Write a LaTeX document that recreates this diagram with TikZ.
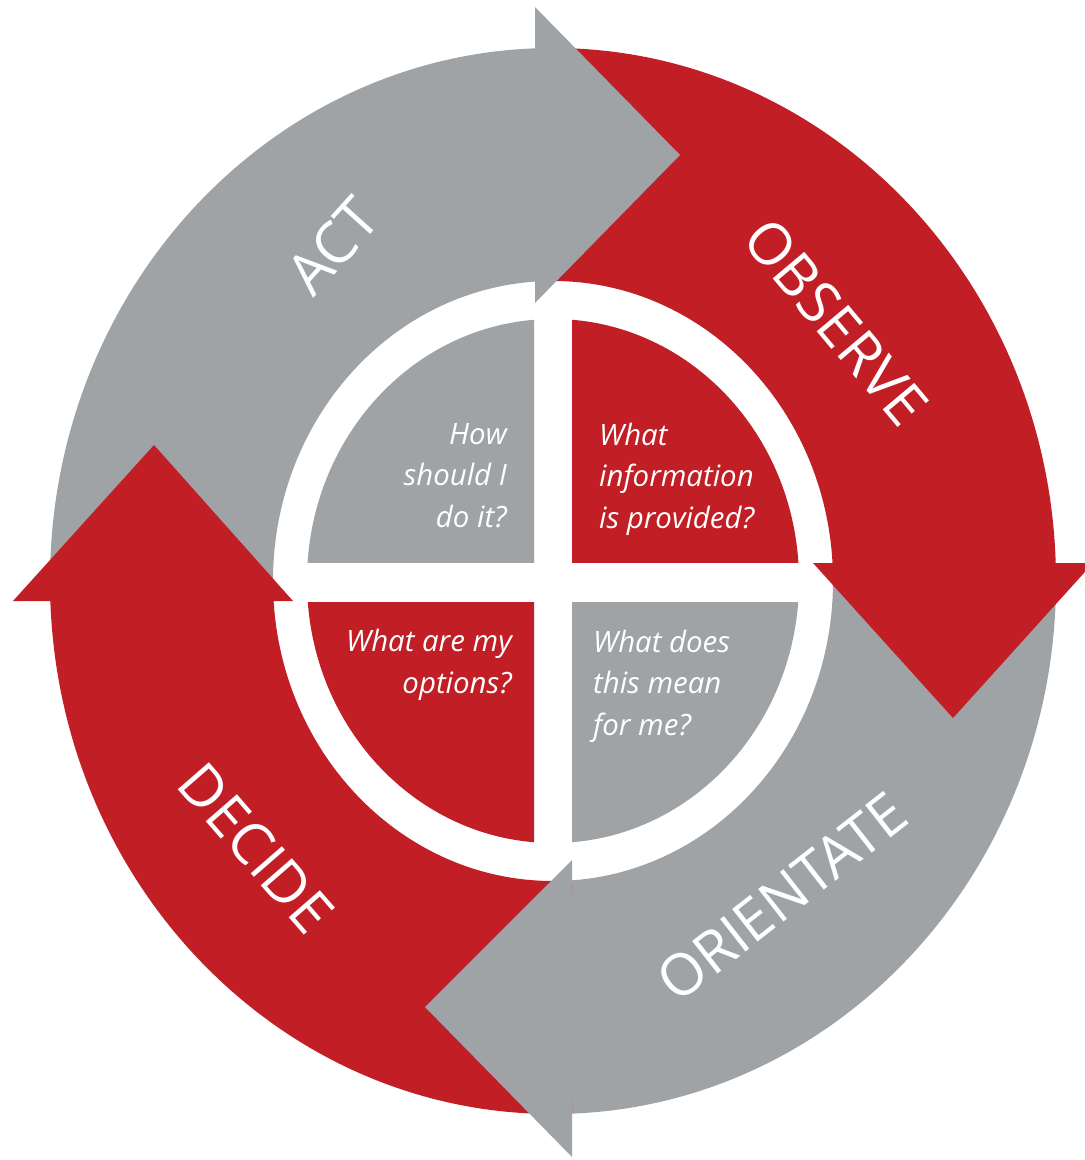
\documentclass[tikz,border=0pt]{standalone}
\usepackage{fontspec}
\setmainfont{Open Sans}
\definecolor{loopred}{RGB}{193,30,38}
\definecolor{loopgray}{RGB}{160,163,166}

\begin{document}
\begin{tikzpicture}[x=1bp,y=-1bp,
  stage/.style={text=white, inner sep=0pt, font=\fontsize{58}{58}\selectfont},
  question/.style={text=white, inner sep=0pt, font=\fontsize{29.5}{41.5}\selectfont\itshape},
  qleft/.style={question, align=left, anchor=base west},
  qright/.style={question, align=right, anchor=base east}]
\useasboundingbox (0,0) rectangle (1085,1160);
\coordinate (c) at (553,581);

% outer ring, split into four bands
\begin{scope}
  \clip (0,0) rectangle (535,601);
  \fill[loopgray, even odd rule] (c) ellipse [x radius=503, y radius=533] (c) ellipse [x radius=280, y radius=300];
\end{scope}
\begin{scope}
  \clip (535,0) rectangle (1100,563);
  \fill[loopred, even odd rule] (c) ellipse [x radius=503, y radius=533] (c) ellipse [x radius=280, y radius=300];
\end{scope}
\begin{scope}
  \clip (572,563) rectangle (1100,1160);
  \fill[loopgray, even odd rule] (c) ellipse [x radius=503, y radius=533] (c) ellipse [x radius=280, y radius=300];
\end{scope}
\begin{scope}
  \clip (0,601) rectangle (572,1160);
  \fill[loopred, even odd rule] (c) ellipse [x radius=503, y radius=533] (c) ellipse [x radius=280, y radius=300];
\end{scope}

% inner disc, split into four quadrants by a white cross
\begin{scope}
  \clip (0,0) rectangle (534,562);
  \fill[loopgray] (c) ellipse [x radius=246, y radius=262];
\end{scope}
\begin{scope}
  \clip (572,0) rectangle (1085,562);
  \fill[loopred] (c) ellipse [x radius=246, y radius=262];
\end{scope}
\begin{scope}
  \clip (0,602) rectangle (534,1160);
  \fill[loopred] (c) ellipse [x radius=246, y radius=262];
\end{scope}
\begin{scope}
  \clip (572,602) rectangle (1085,1160);
  \fill[loopgray] (c) ellipse [x radius=246, y radius=262];
\end{scope}

% arrowheads, each with a short strip joining it to its own band
\fill[loopgray] (531,60) rectangle (538,270);
\fill[loopgray] (535,7) -- (680,155) -- (535,303) -- cycle;
\fill[loopred] (845,560) rectangle (1040,567);
\fill[loopred] (813,563) -- (1093,563) -- (953,718) -- cycle;
\fill[loopgray] (569,895) rectangle (576,1100);
\fill[loopgray] (572,860) -- (425,1007) -- (572,1157) -- cycle;
\fill[loopred] (65,597) rectangle (260,604);
\fill[loopred] (13,601) -- (154,445) -- (293,601) -- cycle;

% stage labels
\node[stage, rotate=48]  (act) at (333,246) {ACT};
\node[stage, rotate=-50] (observe) at (836,322) {OBSERVE};
\node[stage, rotate=38]  (orientate) at (782,897) {ORIENTATE};
\node[stage, rotate=-49] (decide) at (256,848) {DECIDE};

% questions (anchored at the baseline of the last line)
\node[qright] (qact) at (507,527) {How\\should I\\do it?};
\node[qleft]  (qobs) at (599,528) {What\\information\\is provided?};
\node[qright] (qdec) at (512,693) {What are my\\options?};
\node[qleft]  (qori) at (593,735) {What does\\this mean\\for me?};
\end{tikzpicture}
\end{document}
